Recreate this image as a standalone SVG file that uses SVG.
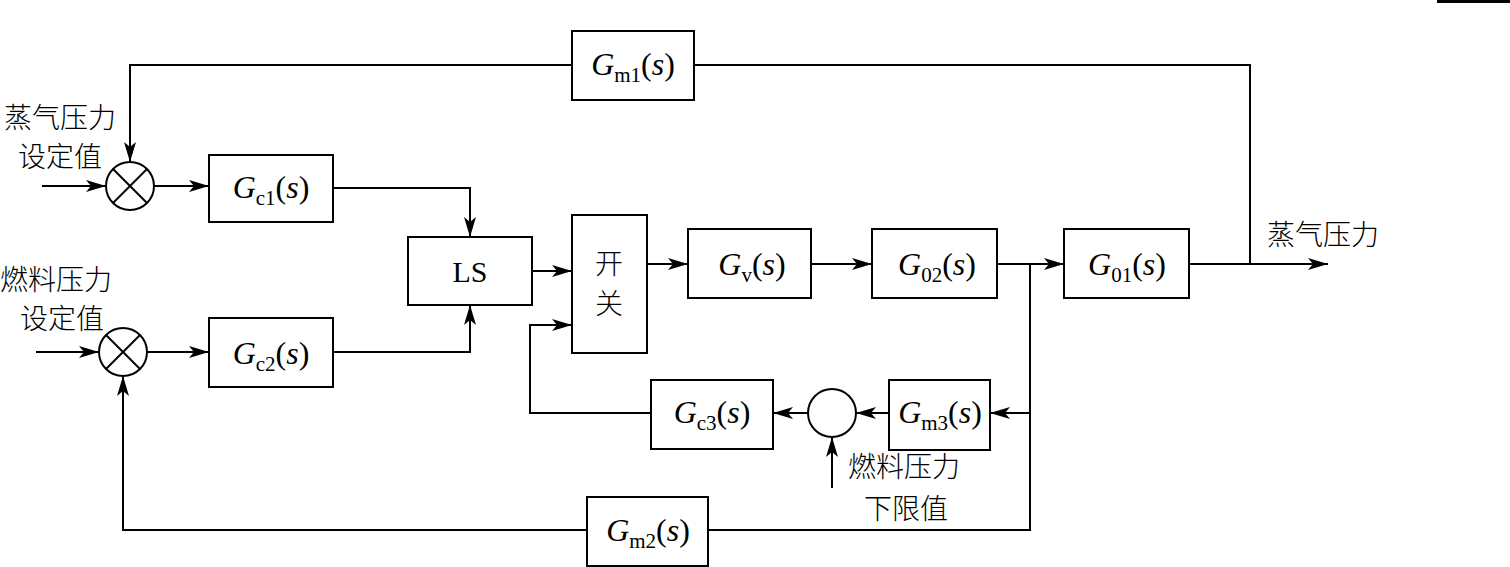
<svg xmlns="http://www.w3.org/2000/svg" width="1510" height="567" viewBox="0 0 1510 567">
<defs>
<marker id="arr" viewBox="0 0 20 12" refX="20" refY="6" markerWidth="20" markerHeight="12" markerUnits="userSpaceOnUse" orient="auto">
<path d="M0,0 L20,6 L0,12 L5,6 Z" fill="#000"/>
</marker>
</defs>
<style>
.box{fill:#fff;stroke:#000;stroke-width:2}
.ln{fill:none;stroke:#000;stroke-width:2}
.g{font-family:"Liberation Serif",serif;font-size:32px;fill:#000}
.i{font-style:italic}
.sub{font-size:21px}
.cn{font-family:"Noto Sans CJK SC",sans-serif;font-size:28px;font-weight:300;fill:#000}
.ls{font-family:"Liberation Serif",serif;font-size:30px;fill:#000}
</style>
<rect width="1510" height="567" fill="#fff"/>
<rect x="1437" y="0" width="73" height="3" fill="#000"/>

<g id="connectors">
<polyline class="ln" points="694,65 1250,65 1250,264"/>
<polyline class="ln" points="572,65 130,65 130,162" marker-end="url(#arr)"/>
<line class="ln" x1="42" y1="186" x2="106" y2="186" marker-end="url(#arr)"/>
<line class="ln" x1="155" y1="186" x2="209" y2="186" marker-end="url(#arr)"/>
<polyline class="ln" points="333,188 470,188 470,237" marker-end="url(#arr)"/>
<line class="ln" x1="36" y1="352" x2="99" y2="352" marker-end="url(#arr)"/>
<line class="ln" x1="147" y1="352" x2="209" y2="352" marker-end="url(#arr)"/>
<polyline class="ln" points="333,352 470,352 470,305" marker-end="url(#arr)"/>
<line class="ln" x1="532" y1="271" x2="572" y2="271" marker-end="url(#arr)"/>
<line class="ln" x1="647" y1="264" x2="688" y2="264" marker-end="url(#arr)"/>
<line class="ln" x1="811" y1="264" x2="872" y2="264" marker-end="url(#arr)"/>
<line class="ln" x1="997" y1="264" x2="1064" y2="264" marker-end="url(#arr)"/>
<line class="ln" x1="1189" y1="264" x2="1328" y2="264" marker-end="url(#arr)"/>
<polyline class="ln" points="1030,264 1030,530 708,530"/>
<line class="ln" x1="1030" y1="413" x2="990" y2="413" marker-end="url(#arr)"/>
<line class="ln" x1="889" y1="413" x2="856" y2="413" marker-end="url(#arr)"/>
<line class="ln" x1="808" y1="413" x2="773" y2="413" marker-end="url(#arr)"/>
<polyline class="ln" points="651,413 530,413 530,325 572,325" marker-end="url(#arr)"/>
<line class="ln" x1="832" y1="488" x2="832" y2="437" marker-end="url(#arr)"/>
<polyline class="ln" points="587,530 123,530 123,376" marker-end="url(#arr)"/>
</g>

<g id="label-steam-set">
<text class="cn" x="60" y="128" text-anchor="middle">蒸气压力</text>
<text class="cn" x="60" y="167" text-anchor="middle">设定值</text>
</g>
<g id="label-fuel-set">
<text class="cn" x="56" y="290" text-anchor="middle">燃料压力</text>
<text class="cn" x="62" y="329" text-anchor="middle">设定值</text>
</g>
<g id="label-steam-out">
<text class="cn" x="1323" y="245" text-anchor="middle">蒸气压力</text>
</g>
<g id="label-fuel-low">
<text class="cn" x="904" y="477" text-anchor="middle">燃料压力</text>
<text class="cn" x="906" y="519" text-anchor="middle">下限值</text>
</g>

<g id="sum1">
<circle class="box" cx="130" cy="186" r="24"/>
<line class="ln" x1="113" y1="169" x2="147" y2="203" stroke-width="1.5"/>
<line class="ln" x1="147" y1="169" x2="113" y2="203" stroke-width="1.5"/>
</g>
<g id="sum2">
<circle class="box" cx="123" cy="352" r="24"/>
<line class="ln" x1="106" y1="335" x2="140" y2="369" stroke-width="1.5"/>
<line class="ln" x1="140" y1="335" x2="106" y2="369" stroke-width="1.5"/>
</g>
<g id="sum3">
<circle class="box" cx="832" cy="413" r="24"/>
</g>

<g id="Gm1">
<rect class="box" x="572" y="31" width="122" height="69"/>
<text class="g" x="633" y="75" text-anchor="middle"><tspan class="i">G</tspan><tspan class="sub" dy="7">m1</tspan><tspan dy="-7">(</tspan><tspan class="i">s</tspan>)</text>
</g>
<g id="Gc1">
<rect class="box" x="209" y="155" width="124" height="67"/>
<text class="g" x="271" y="198" text-anchor="middle"><tspan class="i">G</tspan><tspan class="sub" dy="7">c1</tspan><tspan dy="-7">(</tspan><tspan class="i">s</tspan>)</text>
</g>
<g id="Gc2">
<rect class="box" x="209" y="318" width="124" height="69"/>
<text class="g" x="271" y="364" text-anchor="middle"><tspan class="i">G</tspan><tspan class="sub" dy="7">c2</tspan><tspan dy="-7">(</tspan><tspan class="i">s</tspan>)</text>
</g>
<g id="LS">
<rect class="box" x="408" y="237" width="124" height="68"/>
<text class="ls" x="470" y="282" text-anchor="middle">LS</text>
</g>
<g id="switch">
<rect class="box" x="572" y="215" width="75" height="138"/>
<text class="cn" x="609" y="274" text-anchor="middle">开</text>
<text class="cn" x="609" y="314" text-anchor="middle">关</text>
</g>
<g id="Gv">
<rect class="box" x="688" y="229" width="123" height="69"/>
<text class="g" x="752" y="275" text-anchor="middle"><tspan class="i">G</tspan><tspan class="sub" dy="7">v</tspan><tspan dy="-7">(</tspan><tspan class="i">s</tspan>)</text>
</g>
<g id="G02">
<rect class="box" x="872" y="229" width="125" height="69"/>
<text class="g" x="937" y="275" text-anchor="middle"><tspan class="i">G</tspan><tspan class="sub" dy="7">02</tspan><tspan dy="-7">(</tspan><tspan class="i">s</tspan>)</text>
</g>
<g id="G01">
<rect class="box" x="1064" y="229" width="125" height="69"/>
<text class="g" x="1127" y="275" text-anchor="middle"><tspan class="i">G</tspan><tspan class="sub" dy="7">01</tspan><tspan dy="-7">(</tspan><tspan class="i">s</tspan>)</text>
</g>
<g id="Gm3">
<rect class="box" x="889" y="380" width="101" height="70"/>
<text class="g" x="940" y="423" text-anchor="middle"><tspan class="i">G</tspan><tspan class="sub" dy="7">m3</tspan><tspan dy="-7">(</tspan><tspan class="i">s</tspan>)</text>
</g>
<g id="Gc3">
<rect class="box" x="651" y="380" width="122" height="69"/>
<text class="g" x="712" y="423" text-anchor="middle"><tspan class="i">G</tspan><tspan class="sub" dy="7">c3</tspan><tspan dy="-7">(</tspan><tspan class="i">s</tspan>)</text>
</g>
<g id="Gm2">
<rect class="box" x="587" y="497" width="121" height="69"/>
<text class="g" x="648" y="541" text-anchor="middle"><tspan class="i">G</tspan><tspan class="sub" dy="7">m2</tspan><tspan dy="-7">(</tspan><tspan class="i">s</tspan>)</text>
</g>
</svg>
